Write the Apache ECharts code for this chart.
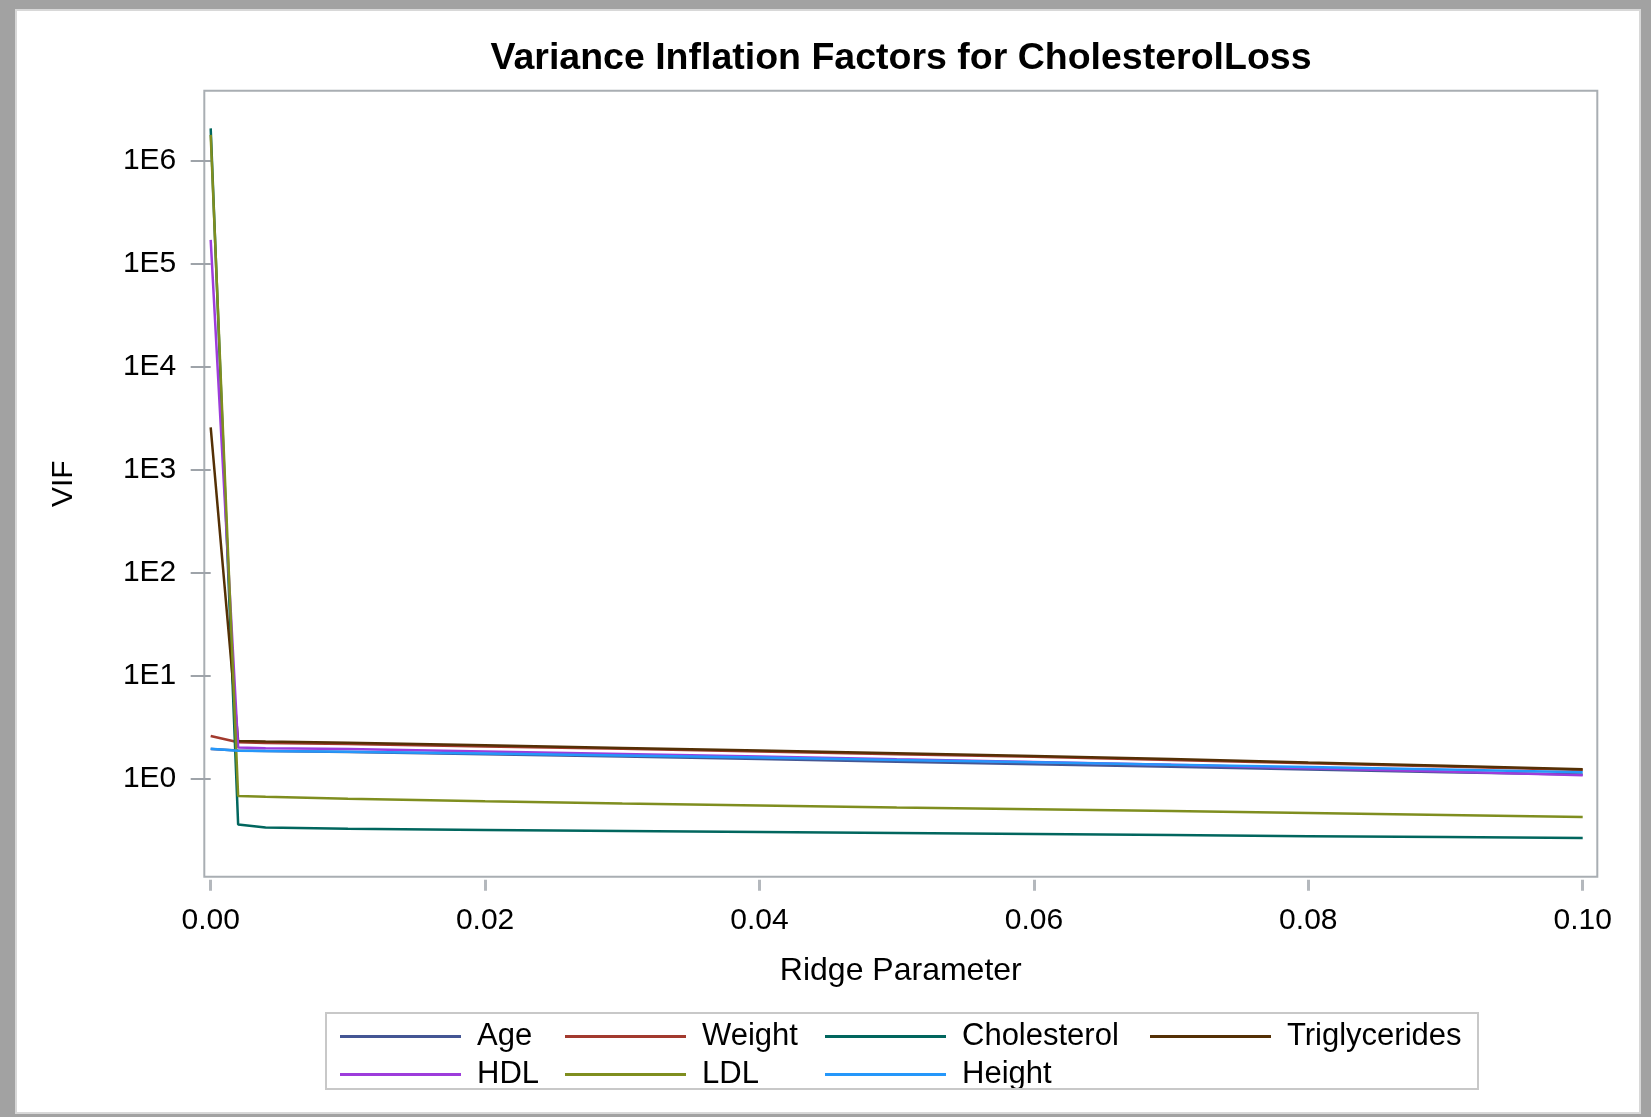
<!DOCTYPE html>
<html>
<head>
<meta charset="utf-8">
<script src="https://cdn.jsdelivr.net/npm/echarts@6/dist/echarts.min.js"></script>
<style>
html,body{margin:0;padding:0;background:#a2a2a2;}
#main{width:1651px;height:1117px;}
</style>
</head>
<body>
<div id="main"></div>
<script>
// Ridge parameter values (x)
const ridge = [0, 0.002, 0.004, 0.01, 0.02, 0.03, 0.04, 0.05, 0.06, 0.07, 0.08, 0.09, 0.10];
// VIF values per variable
const age           = [1.96, 1.90, 1.88, 1.84, 1.75, 1.66, 1.57, 1.48, 1.40, 1.32, 1.24, 1.17, 1.11];
const weight        = [2.63, 2.28, 2.25, 2.20, 2.08, 1.97, 1.86, 1.75, 1.65, 1.54, 1.43, 1.33, 1.23];
const cholesterol   = [2.08e6, 0.364, 0.339, 0.330, 0.322, 0.315, 0.308, 0.301, 0.294, 0.287, 0.280, 0.274, 0.268];
const triglycerides = [2600, 2.35, 2.32, 2.26, 2.13, 2.01, 1.90, 1.79, 1.68, 1.57, 1.45, 1.35, 1.25];
const hdl           = [1.72e5, 2.03, 2.00, 1.96, 1.86, 1.76, 1.66, 1.56, 1.47, 1.38, 1.28, 1.19, 1.09];
const ldl           = [1.80e6, 0.687, 0.675, 0.645, 0.61, 0.58, 0.555, 0.53, 0.51, 0.49, 0.47, 0.45, 0.43];
const height        = [1.98, 1.89, 1.88, 1.85, 1.78, 1.70, 1.62, 1.54, 1.46, 1.38, 1.31, 1.24, 1.17];

const seriesNames = ['Age', 'Weight', 'Cholesterol', 'Triglycerides', 'HDL', 'LDL', 'Height'];
const seriesValues = [age, weight, cholesterol, triglycerides, hdl, ldl, height];
const seriesColors = ['#445694', '#A23A2E', '#01665E', '#543005', '#9D3CDB', '#7F8E1F', '#2597FA'];

// Tick values
const xTicks = [0, 0.02, 0.04, 0.06, 0.08, 0.10];
const yTicks = [1, 10, 100, 1000, 10000, 100000, 1000000];

const FONT = "'Liberation Sans', Arial, Helvetica, sans-serif";

const chart = echarts.init(document.getElementById('main'));

const series = seriesNames.map((name, k) => ({
  name: name,
  type: 'line',
  symbol: 'none',
  showSymbol: false,
  animation: false,
  color: seriesColors[k],
  lineStyle: { width: 2.5, color: seriesColors[k] },
  data: ridge.map((x, i) => [x, seriesValues[k][i]])
}));

const legendCols = [
  { left: 340, data: ['Age', 'HDL'] },
  { left: 565, data: ['Weight', 'LDL'] },
  { left: 825, data: ['Cholesterol', 'Height'] },
  { left: 1150, data: ['Triglycerides'] }
];

const legends = legendCols.map(c => ({
  orient: 'vertical',
  left: c.left,
  top: 1021,
  padding: 0,
  itemGap: 7,
  itemWidth: 121,
  itemHeight: 3,
  icon: 'rect',
  data: c.data,
  textStyle: { fontFamily: FONT, fontSize: 31, color: '#000', lineHeight: 30, padding: [0, 0, 0, 11] }
}));

chart.setOption({
  animation: false,
  title: {
    text: 'Variance Inflation Factors for CholesterolLoss',
    left: 896,
    top: 35,
    textAlign: 'center',
    textStyle: { fontFamily: FONT, fontSize: 37.5, fontWeight: 'bold', color: '#000' }
  },
  graphic: [
    { type: 'rect', z: -10, shape: { x: 16, y: 10, width: 1624, height: 1103 },
      style: { fill: '#ffffff', stroke: '#d8d8d8', lineWidth: 2 } },
    { type: 'rect', z: 10, shape: { x: 326, y: 1013, width: 1152, height: 76 },
      style: { fill: 'none', stroke: '#c8c8c8', lineWidth: 2 } }
  ],
  legend: legends,
  grid: {
    left: 204.3, right: 53.7, top: 90.7, bottom: 240.3,
    show: true, borderColor: '#a9aeb3', borderWidth: 2, backgroundColor: '#ffffff'
  },
  xAxis: {
    type: 'value',
    min: -0.000466,
    max: 0.101064,
    offset: 3,
    name: 'Ridge Parameter',
    nameLocation: 'middle',
    nameGap: 75,
    nameTextStyle: { fontFamily: FONT, fontSize: 32, color: '#000' },
    axisLine: { show: false },
    splitLine: { show: false },
    axisTick: { show: true, length: 11, customValues: xTicks, lineStyle: { color: '#b4b8bd', width: 3 } },
    axisLabel: { customValues: xTicks, margin: 26, fontFamily: FONT, fontSize: 30, color: '#000',
      formatter: v => Number(v).toFixed(2) }
  },
  yAxis: {
    type: 'log',
    logBase: 10,
    min: 0.1131,
    max: 4.83e6,
    name: 'VIF',
    nameLocation: 'middle',
    nameGap: 126,
    nameTextStyle: { fontFamily: FONT, fontSize: 30, color: '#000' },
    axisLine: { show: false },
    splitLine: { show: false },
    minorTick: { show: false },
    axisTick: { show: true, length: 20, customValues: yTicks, lineStyle: { color: '#9ea3a9', width: 2 } },
    axisLabel: { customValues: yTicks, margin: 28, fontFamily: FONT, fontSize: 30, color: '#000',
      padding: [8, 0, 0, 0],
      formatter: v => '1E' + Math.round(Math.log10(v)) }
  },
  series: series
});
</script>
</body>
</html>
